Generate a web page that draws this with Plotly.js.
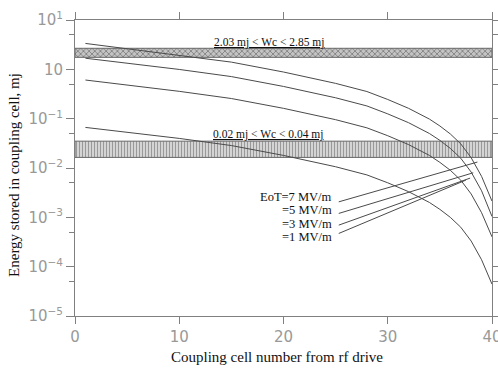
<!DOCTYPE html>
<html>
<head>
<meta charset="utf-8">
<script src="https://cdn.plot.ly/plotly-3.0.1.min.js"></script>
<style>html,body{margin:0;padding:0;background:#fff;}#chart{width:498px;height:369px;}</style>
</head>
<body>
<div id="chart"></div>
<script>
// Cell numbers
var cells = [1, 5, 10, 15, 20, 25, 28, 30, 32, 34, 35, 36, 37, 38, 39, 40];
// Energy stored (mj) for each EoT
var e7 = [3.35, 2.60, 1.95, 1.40, 0.882, 0.519, 0.355, 0.245, 0.162, 0.098, 0.0711, 0.049, 0.0309, 0.0162, 0.00676, 0.00213];
var e5 = [1.68, 1.33, 0.995, 0.713, 0.450, 0.265, 0.181, 0.125, 0.0828, 0.0500, 0.0363, 0.0250, 0.0158, 0.00828, 0.00345, 0.00104];
var e3 = [0.607, 0.478, 0.358, 0.256, 0.162, 0.0954, 0.0652, 0.0451, 0.0298, 0.0180, 0.0130, 0.0090, 0.00568, 0.00298, 0.00124, 0.000402];
var e1 = [0.0665, 0.0531, 0.0398, 0.0285, 0.0180, 0.0106, 0.00724, 0.00501, 0.00331, 0.00200, 0.00145, 0.00100, 0.000631, 0.000331, 0.000138, 0.0000442];

// Bands (mj)
var bandHigh = [1.75, 2.67];
var bandLow = [0.0164, 0.035];
var bandHighLabel = "2.03 mj < Wc < 2.85 mj";
var bandLowLabel = "0.02 mj < Wc < 0.04 mj";

// Curve labels and leader lines
var curveLabels = ["EoT=7 MV/m", "=5 MV/m", "=3 MV/m", "=1 MV/m"];
var leaderX = [[25.3, 38.6], [25.3, 38.2], [25.3, 37.9], [25.3, 37.5]];
var leaderY = [[0.00206, 0.0132], [0.00120, 0.0080], [0.000695, 0.00624], [0.000471, 0.00569]];

// Axis ticks
var xTicks = [0, 10, 20, 30, 40];
var yTicks = [1e-5, 1e-4, 1e-3, 1e-2, 1e-1, 1, 10];
var yTickText = ["10<sup>\u22125</sup>", "10<sup>\u22124</sup>", "10<sup>\u22123</sup>", "10<sup>\u22122</sup>", "10<sup>\u22121</sup>", "10", "10<sup>1</sup>"];
var yMinor = [5e-5, 5e-4, 5e-3, 5e-2, 5e-1, 5];
var xTitle = 'Coupling cell number from rf drive';
var yTitle = 'Energy stored in coupling cell, mj';

var lineCol = '#4a4a4a';
var traces = [];

function band(r, pat) {
  return {
    x: [0, 40, 40, 0, 0], y: [r[0], r[0], r[1], r[1], r[0]],
    mode: 'lines', fill: 'toself', line: {color: '#666', width: 1},
    fillcolor: pat.bg, fillpattern: pat, hoverinfo: 'skip', showlegend: false
  };
}
traces.push(band(bandHigh, {shape: 'x', size: 4, solidity: 0.35, fgcolor: '#777', bgcolor: '#c4c4c4'}));
traces.push(band(bandLow, {shape: '|', size: 3, solidity: 0.35, fgcolor: '#999', bgcolor: '#d4d4d4'}));

[e7, e5, e3, e1].forEach(function (s) {
  traces.push({x: cells, y: s, mode: 'lines', line: {color: lineCol, width: 1}, showlegend: false});
});
for (var i = 0; i < leaderX.length; i++) {
  traces.push({x: leaderX[i], y: leaderY[i], mode: 'lines', line: {color: lineCol, width: 1}, showlegend: false});
}

var labelY = [-2.596, -2.854, -3.138, -3.396];
var annotations = curveLabels.map(function (t, i) {
  return {x: 24.8, y: labelY[i], xref: 'x', yref: 'y', text: t, showarrow: false,
    xanchor: 'right', yanchor: 'middle', font: {family: 'Liberation Serif', size: 12.5, color: '#111'}};
});
annotations.push({x: 18.7, y: 0.55, xref: 'x', yref: 'y', text: '<u>' + bandHighLabel + '</u>', showarrow: false,
  xanchor: 'center', yanchor: 'middle', font: {family: 'Liberation Serif', size: 11.5, color: '#111'}});
annotations.push({x: 18.6, y: -1.32, xref: 'x', yref: 'y', text: '<u>' + bandLowLabel + '</u>', showarrow: false,
  xanchor: 'center', yanchor: 'middle', font: {family: 'Liberation Serif', size: 11.5, color: '#111'}});
annotations.push({x: 0.484, y: -0.139, xref: 'paper', yref: 'paper', text: xTitle, showarrow: false,
  xanchor: 'center', yanchor: 'middle', font: {family: 'Liberation Serif', size: 15, color: '#111'}});
annotations.push({x: -0.145, y: 0.475, xref: 'paper', yref: 'paper', text: yTitle, showarrow: false, textangle: -90,
  xanchor: 'center', yanchor: 'middle', font: {family: 'Liberation Serif', size: 15, color: '#111'}});

var axCol = '#808080';
var layout = {
  width: 498, height: 369,
  margin: {l: 75, r: 6, t: 20, b: 53},
  paper_bgcolor: '#fff', plot_bgcolor: '#fff',
  showlegend: false,
  xaxis: {
    range: [0, 40], tickvals: xTicks, ticks: 'outside', ticklen: 7, tickcolor: axCol, tickwidth: 1,
    showline: true, linecolor: axCol, linewidth: 1, mirror: 'allticks', showgrid: false, zeroline: false,
    ticklabeloverflow: 'allow', automargin: false,
    tickfont: {family: 'DejaVu Sans', size: 15, color: '#999'}
  },
  yaxis: {
    type: 'log', range: [-5, 1], tickvals: yTicks, ticktext: yTickText, ticks: 'outside', ticklen: 8,
    tickcolor: axCol, tickwidth: 1, showline: true, linecolor: axCol, linewidth: 1, mirror: 'allticks',
    showgrid: false, zeroline: false, automargin: false,
    minor: {tickvals: yMinor, ticks: 'outside', ticklen: 5, tickcolor: axCol, showgrid: false},
    tickfont: {family: 'DejaVu Sans', size: 15, color: '#999'}
  },
  annotations: annotations
};
Plotly.newPlot('chart', traces, layout, {staticPlot: true, displayModeBar: false});
</script>
</body>
</html>
